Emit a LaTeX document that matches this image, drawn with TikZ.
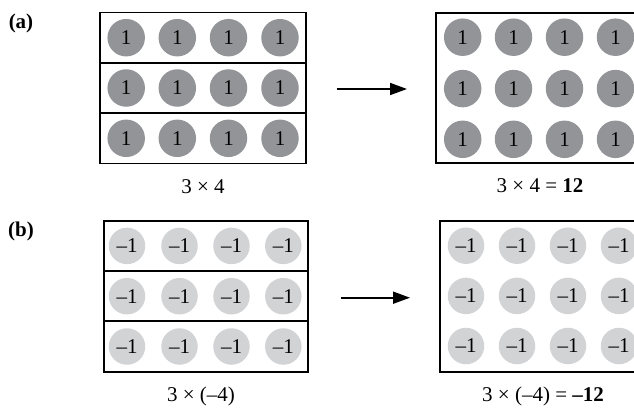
\documentclass[tikz,border=0pt]{standalone}
\usepackage{fontspec}
\setmainfont{Liberation Serif}
\usetikzlibrary{arrows.meta}
\definecolor{darkdot}{RGB}{146,148,151}
\definecolor{lightdot}{RGB}{210,211,213}
\newcommand{\bigtxt}{\fontsize{21}{25}\selectfont}
\begin{document}
\begin{tikzpicture}[x=1pt,y=-1pt,
  txt/.style={font=\bigtxt, inner sep=0pt},
  boxrow/.style={draw, line width=1.8pt, inner sep=0pt},
  dotA/.style={circle, fill=darkdot, minimum size=37.5pt, inner sep=0pt, font=\bigtxt},
  dotB/.style={circle, fill=lightdot, minimum size=36.5pt, inner sep=0pt, font=\bigtxt},
  arr/.style={line width=1.7pt, -{Triangle[length=17pt,width=12pt]}}]
\useasboundingbox (0,0) rectangle (634,407);
\clip (0,0) rectangle (634,407);
% (a) left
\foreach \r/\y in {1/37.7,2/88,3/138.3}{
  \node[boxrow, minimum width=205.7pt, minimum height=50.3pt] (ar\r) at (202.85,\y) {};
  \foreach \c/\x in {1/126.2,2/177.3,3/228.5,4/280}{
    \node[dotA] (ad\r\c) at (\x,\y) {1};
  }
}
% (a) right
\node[boxrow, minimum width=206pt, minimum height=150.6pt] (aR) at (539,88) {};
\foreach \r/\y in {1/37.2,2/88.6,3/139.3}{
  \foreach \c/\x in {1/462.7,2/513.5,3/564.5,4/615.5}{
    \node[dotA] (aRd\r\c) at (\x,\y) {1};
  }
}
% (b) left
\foreach \r/\y in {1/245.9,2/296.2,3/346.5}{
  \node[boxrow, minimum width=204.3pt, minimum height=50.3pt] (br\r) at (206.15,\y) {};
  \foreach \c/\x in {1/127,2/179.5,3/231.5,4/283.3}{
    \node[dotB] (bd\r\c) at (\x,\y) {–1};
  }
}
% (b) right
\node[boxrow, minimum width=206pt, minimum height=151pt] (bR) at (543,296.2) {};
\foreach \r/\y in {1/245.7,2/295.9,3/346}{
  \foreach \c/\x in {1/466,2/517,3/568,4/619}{
    \node[dotB] (bRd\r\c) at (\x,\y) {–1};
  }
}
% arrows
\coordinate (aS) at (336.7,89);
\coordinate (aE) at (407,89);
\draw[arr] (aS) -- (aE);
\coordinate (bS) at (340.7,297.7);
\coordinate (bE) at (410,297.7);
\draw[arr] (bS) -- (bE);
% labels
\node[txt] (la) at (21,23) {\textbf{(a)}};
\node[txt] (lb) at (21,231) {\textbf{(b)}};
\node[txt] (ca) at (203,187) {3 × 4};
\node[txt] (cA) at (540,186) {3 × 4 = \textbf{12}};
\node[txt] (cb) at (201,396) {3 × (–4)};
\node[txt] (cB) at (543,396) {3 × (–4) = \textbf{–12}};
\end{tikzpicture}
\end{document}
